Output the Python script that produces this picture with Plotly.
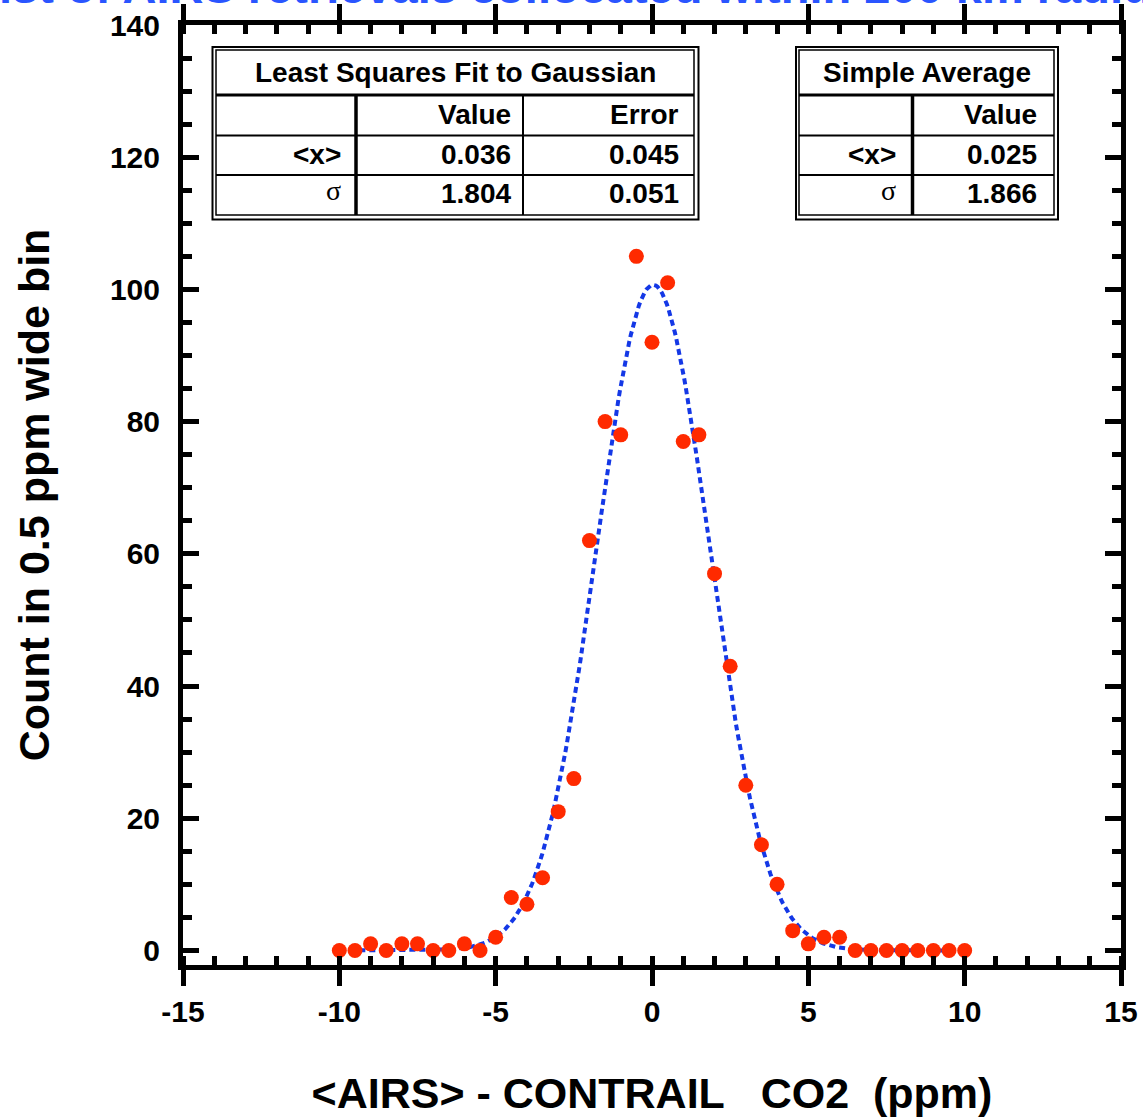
import numpy as np
import plotly.graph_objects as go

# ---------------- data ----------------
bin_centers = [-10, -9.5, -9, -8.5, -8, -7.5, -7, -6.5, -6, -5.5, -5, -4.5, -4, -3.5,
               -3, -2.5, -2, -1.5, -1, -0.5, 0, 0.5, 1, 1.5, 2, 2.5, 3, 3.5, 4, 4.5,
               5, 5.5, 6, 6.5, 7, 7.5, 8, 8.5, 9, 9.5, 10]
counts = [0, 0, 1, 0, 1, 1, 0, 0, 1, 0, 2, 8, 7, 11,
          21, 26, 62, 80, 78, 105, 92, 101, 77, 78, 57, 43, 25, 16, 10, 3,
          1, 2, 2, 0, 0, 0, 0, 0, 0, 0, 0]

# Gaussian fit parameters (from the fit table)
fit_center = 0.036
fit_sigma = 1.804
fit_center_err = 0.045
fit_sigma_err = 0.051
fit_peak = 100.7

# simple average
avg_center = 0.025
avg_sigma = 1.866

x_tick_vals = [-15, -10, -5, 0, 5, 10, 15]
x_tick_labels = ["-15", "-10", "-5", "0", "5", "10", "15"]
y_tick_vals = [0, 20, 40, 60, 80, 100, 120, 140]
y_tick_labels = ["0", "20", "40", "60", "80", "100", "120", "140"]

title_text = "Hist of AIRS retrievals collocated within 200 km radius"

# ---------------- figure ----------------
W, H = 1143, 1118
ML, MR, MT, MB = 183, 22, 25, 153
PW, PH = W - ML - MR, H - MT - MB

def px(xp):
    return (xp - ML) / PW

def py(yp):
    return (H - MB - yp) / PH

fit_x = np.linspace(bin_centers[0], bin_centers[-1], 400)
fit_y = fit_peak * np.exp(-(fit_x - fit_center) ** 2 / (2 * fit_sigma ** 2))

fig = go.Figure()
fig.add_trace(go.Scatter(x=fit_x, y=fit_y, mode="lines",
                         line=dict(color="#1438e6", width=4, dash="6px,4px"),
                         hoverinfo="skip", showlegend=False))
fig.add_trace(go.Scatter(x=bin_centers, y=counts, mode="markers",
                         marker=dict(color="#ff2a00", size=15, line=dict(width=0)),
                         showlegend=False))

font_main = "Liberation Sans, Arial, sans-serif"

axis_common = dict(showline=True, linewidth=5, linecolor="black", mirror="allticks",
                   showgrid=False, zeroline=False,
                   tickfont=dict(family=font_main, size=30, color="black", weight="bold"),
                   tickcolor="black")

fig.update_xaxes(range=[-15, 15], tickvals=x_tick_vals, ticktext=x_tick_labels,
                 ticks="outside", ticklen=16, tickwidth=5,
                 minor=dict(ticks="inside", ticklen=9, tickwidth=5, dtick=1, tickcolor="black"),
                 title=dict(text="&lt;AIRS&gt; - CONTRAIL&nbsp;&nbsp;&nbsp;CO2&nbsp;&nbsp;(ppm)",
                            font=dict(family=font_main, size=43, color="black", weight="bold"),
                            standoff=52),
                 **axis_common)
fig.update_yaxes(range=[-2.2, 140], tickvals=y_tick_vals, ticktext=y_tick_labels,
                 ticks="inside", ticklen=16, tickwidth=5,
                 minor=dict(ticks="inside", ticklen=9, tickwidth=5, dtick=5, tickcolor="black"),
                 ticklabelstandoff=12,
                 title=dict(text="Count in 0.5 ppm wide bin",
                            font=dict(family=font_main, size=43, color="black", weight="bold"),
                            standoff=48),
                 **axis_common)

shapes = []
annotations = []

def rect(x0, y0, x1, y1, w):
    shapes.append(dict(type="rect", xref="paper", yref="paper",
                       x0=px(x0), x1=px(x1), y0=py(y0), y1=py(y1),
                       line=dict(color="black", width=w), fillcolor="rgba(0,0,0,0)"))

def hline(x0, x1, y, w):
    shapes.append(dict(type="line", xref="paper", yref="paper",
                       x0=px(x0), x1=px(x1), y0=py(y), y1=py(y),
                       line=dict(color="black", width=w)))

def vline(x, y0, y1, w):
    shapes.append(dict(type="line", xref="paper", yref="paper",
                       x0=px(x), x1=px(x), y0=py(y0), y1=py(y1),
                       line=dict(color="black", width=w)))

def text(t, x, y, anchor="right", serif=False, bold=True):
    annotations.append(dict(text=t, xref="paper", yref="paper", x=px(x), y=py(y),
                            xanchor=anchor, yanchor="middle", showarrow=False,
                            font=dict(family=("Liberation Serif, Times New Roman, serif" if serif else font_main),
                                      size=28, color="black",
                                      weight=("normal" if not bold else "bold"))))

# left table: Least Squares Fit
L0, L1, T0, T1 = 212.5, 698.5, 47, 219.5
rect(L0, T0, L1, T1, 2)
rect(L0 + 3.5, T0 + 3, L1 - 4.5, T1 - 4.5, 1.5)
hline(L0 + 3.5, L1 - 4.5, 95, 3)
hline(L0 + 3.5, L1 - 4.5, 135.5, 2)
hline(L0 + 3.5, L1 - 4.5, 175, 2)
vline(356, 95, T1 - 4.5, 3.5)
vline(523, 95, T1 - 4.5, 2)
text("Least Squares Fit to Gaussian", (L0 + L1) / 2, 72, anchor="center")
text("Value", 513, 114)
text("Error", 681, 114)
text("&lt;x&gt;", 343, 154)
text("σ", 343, 191, serif=True, bold=False)
text(f"{fit_center:.3f}", 513, 154)
text(f"{fit_center_err:.3f}", 681, 154)
text(f"{fit_sigma:.3f}", 513, 194)
text(f"{fit_sigma_err:.3f}", 681, 194)

# right table: Simple Average
R0, R1 = 796, 1058
rect(R0, T0, R1, T1, 2)
rect(R0 + 3, T0 + 3, R1 - 4, T1 - 4.5, 1.5)
hline(R0 + 3, R1 - 4, 95, 3)
hline(R0 + 3, R1 - 4, 135.5, 2)
hline(R0 + 3, R1 - 4, 175, 2)
vline(912.5, 95, T1 - 4.5, 3.5)
text("Simple Average", (R0 + R1) / 2, 72, anchor="center")
text("Value", 1039, 114)
text("&lt;x&gt;", 898, 154)
text("σ", 898, 191, serif=True, bold=False)
text(f"{avg_center:.3f}", 1039, 154)
text(f"{avg_sigma:.3f}", 1039, 194)

# title, cropped by the top edge as in the original
annotations.append(dict(text=title_text, xref="paper", yref="paper",
                        x=px(W / 2), y=py(15), xanchor="center", yanchor="bottom",
                        showarrow=False,
                        font=dict(family=font_main, size=47, color="#2a55ff", weight="bold")))

fig.update_layout(width=W, height=H, margin=dict(l=ML, r=MR, t=MT, b=MB, autoexpand=False),
                  paper_bgcolor="white", plot_bgcolor="white",
                  shapes=shapes, annotations=annotations, showlegend=False)

fig.write_html("out.html")
